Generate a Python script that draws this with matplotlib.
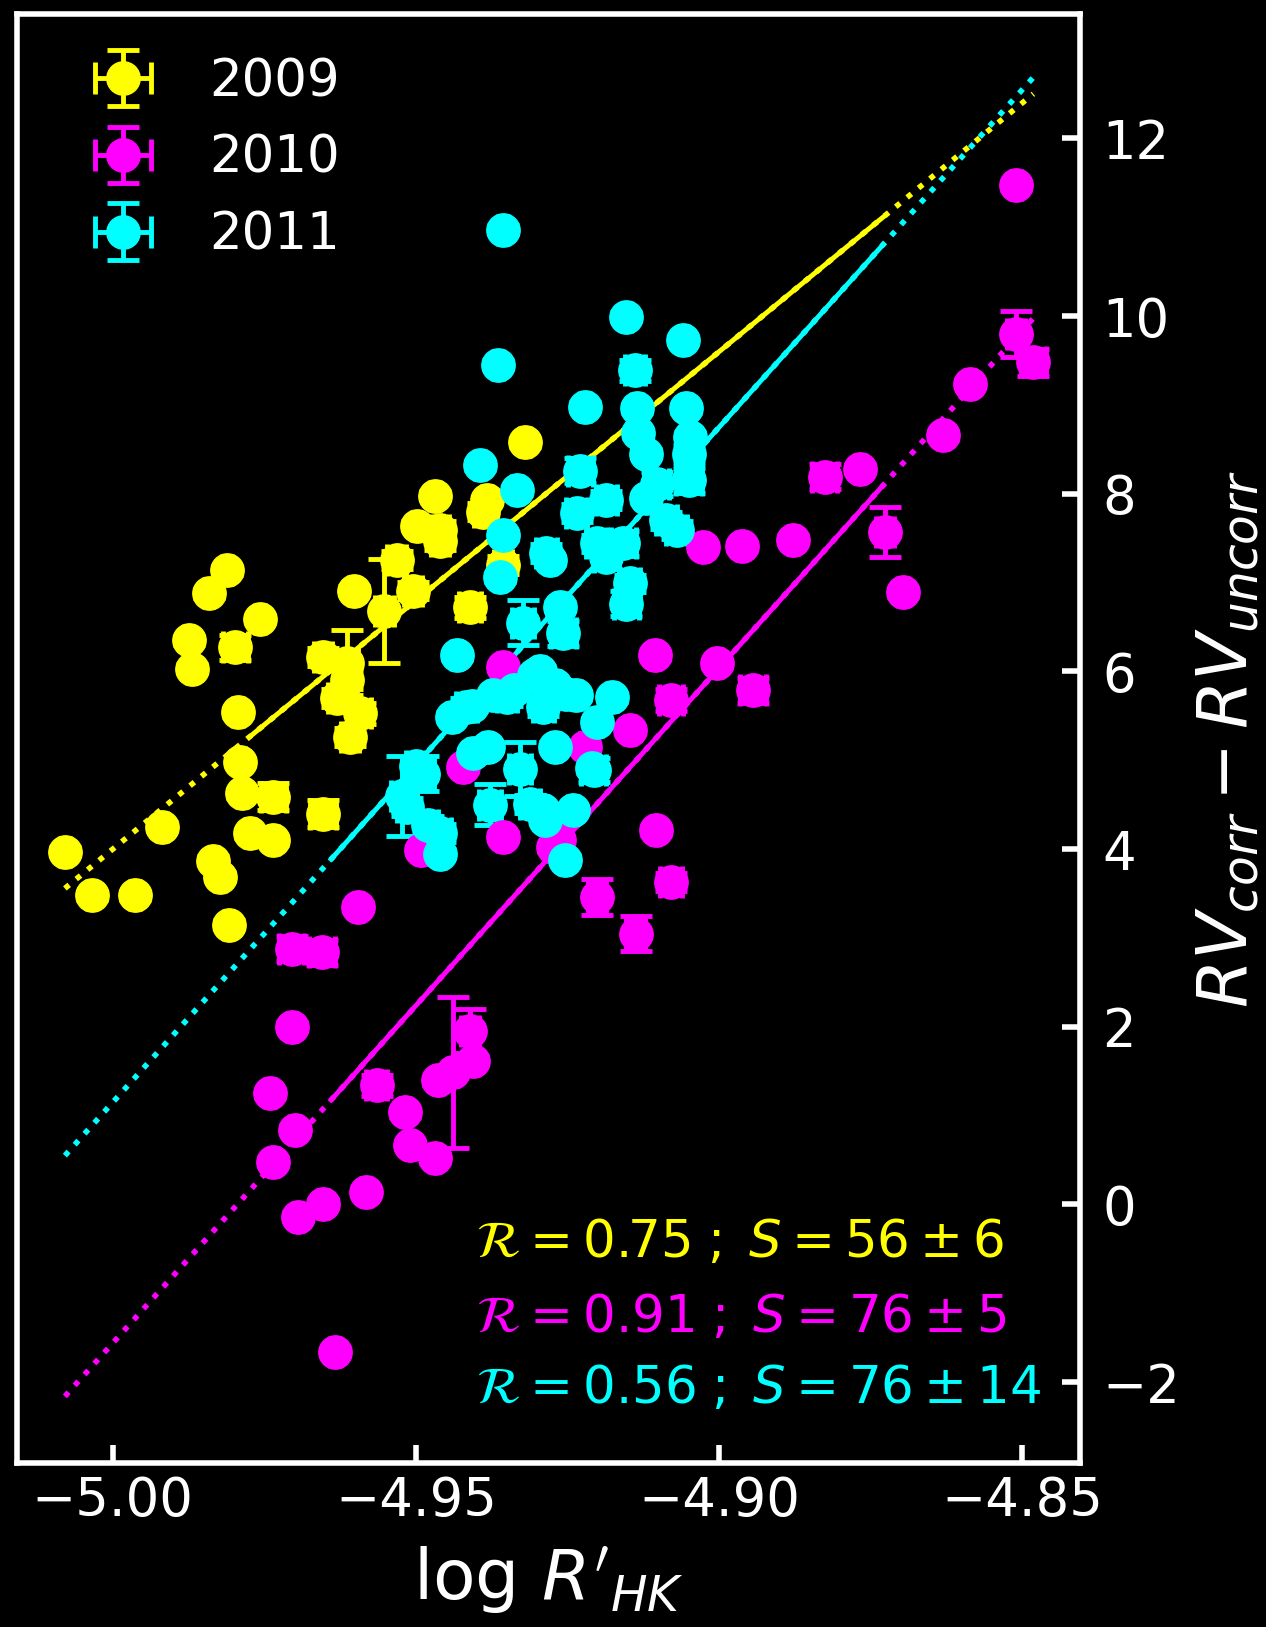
import matplotlib
matplotlib.use("Agg")
import matplotlib.pyplot as plt
from matplotlib.container import ErrorbarContainer
from matplotlib.legend_handler import HandlerErrorbar

# ---- 2009 season ----
x_2009 = [-4.9812, -4.9842, -4.9757, -4.9798, -4.9875, -4.9870, -4.9793, -4.9603,
          -4.9532, -4.9505, -4.9552, -4.9411, -4.9460, -4.9653, -4.9614, -4.9614,
          -4.9592, -4.9609, -4.9630, -4.9790, -4.9735, -4.9787, -4.9653, -4.9774,
          -4.9735, -4.9834, -4.9823, -4.9919, -5.0079, -5.0035, -4.9963, -4.9809,
          -4.9320, -4.9469, -4.9499, -4.9460, -4.9383, -4.9390, -4.9357]
y_2009 = [7.14, 6.88, 6.59, 6.27, 6.35, 6.03, 5.54, 6.91,
          7.25, 6.91, 6.68, 6.72, 7.47, 6.16, 6.10, 5.90,
          5.53, 5.26, 5.70, 4.98, 4.59, 4.63, 4.40, 4.18,
          4.10, 3.87, 3.69, 4.25, 3.97, 3.48, 3.48, 3.15,
          8.58, 7.98, 7.64, 7.59, 7.93, 7.80, 7.20]
yerr_2009 = [0.05, 0.05, 0.05, 0.14, 0.05, 0.05, 0.05, 0.05,
             0.10, 0.10, 0.59, 0.12, 0.10, 0.10, 0.37, 0.10,
             0.12, 0.10, 0.10, 0.05, 0.15, 0.05, 0.15, 0.05,
             0.05, 0.05, 0.05, 0.05, 0.05, 0.05, 0.05, 0.05,
             0.05, 0.05, 0.05, 0.10, 0.05, 0.10, 0.10]
xerr_2009 = [0.0008, 0.0008, 0.0008, 0.0021, 0.0008, 0.0008, 0.0008, 0.0008,
             0.0015, 0.0015, 0.0015, 0.0018, 0.0015, 0.0015, 0.0018, 0.0015,
             0.0018, 0.0015, 0.0015, 0.0008, 0.0021, 0.0008, 0.0021, 0.0008,
             0.0008, 0.0008, 0.0008, 0.0008, 0.0008, 0.0008, 0.0008, 0.0008,
             0.0008, 0.0008, 0.0008, 0.0015, 0.0008, 0.0015, 0.0015]

# ---- 2010 season ----
x_2010 = [-4.9705, -4.9655, -4.9705, -4.9741, -4.9700, -4.9735, -4.9565, -4.9518,
          -4.9510, -4.9469, -4.9439, -4.9463, -4.9406, -4.9411, -4.9694, -4.9653,
          -4.9582, -4.9634, -4.9595, -4.9105, -4.9080, -4.9201, -4.9138, -4.9356,
          -4.9492, -4.9026, -4.8963, -4.8878, -4.8726, -4.8697, -4.9106, -4.9004,
          -4.9079, -4.8944, -4.9147, -4.9221, -4.9265, -4.8510, -4.8510, -4.8482,
          -4.8587, -4.8631, -4.8768, -4.8826, -4.9356, -4.9422, -4.9274]
y_2010 = [2.88, 2.84, 2.00, 1.25, 0.84, 0.48, 1.34, 1.04,
          0.67, 0.52, 1.49, 1.40, 1.62, 1.95, -0.14, 0.01,
          0.14, -1.66, 3.35, 4.21, 3.63, 3.46, 3.05, 4.14,
          3.99, 7.40, 7.41, 7.48, 7.57, 6.89, 6.18, 6.09,
          5.68, 5.79, 5.34, 5.15, 4.10, 11.47, 9.80, 9.48,
          9.24, 8.66, 8.28, 8.19, 6.05, 4.92, 4.02]
yerr_2010 = [0.14, 0.14, 0.05, 0.05, 0.05, 0.05, 0.12, 0.05,
             0.05, 0.05, 0.85, 0.05, 0.05, 0.25, 0.05, 0.05,
             0.05, 0.05, 0.05, 0.05, 0.10, 0.20, 0.20, 0.05,
             0.05, 0.05, 0.05, 0.05, 0.28, 0.05, 0.05, 0.05,
             0.12, 0.14, 0.05, 0.05, 0.05, 0.05, 0.26, 0.15,
             0.05, 0.05, 0.05, 0.14, 0.05, 0.05, 0.05]
xerr_2010 = [0.0021, 0.0021, 0.0008, 0.0008, 0.0008, 0.0008, 0.0018, 0.0008,
             0.0008, 0.0008, 0.0008, 0.0008, 0.0008, 0.0015, 0.0008, 0.0008,
             0.0008, 0.0008, 0.0008, 0.0008, 0.0018, 0.0015, 0.0015, 0.0008,
             0.0008, 0.0008, 0.0008, 0.0008, 0.0015, 0.0008, 0.0008, 0.0008,
             0.0020, 0.0021, 0.0008, 0.0008, 0.0008, 0.0008, 0.0015, 0.0021,
             0.0008, 0.0008, 0.0008, 0.0021, 0.0008, 0.0008, 0.0008]

# ---- 2011 season ----
x_2011 = [-4.9357, -4.9365, -4.9394, -4.9333, -4.9356, -4.9285, -4.9153, -4.9059,
          -4.9139, -4.9221, -4.9136, -4.9054, -4.9134, -4.9048, -4.9050, -4.9050,
          -4.9229, -4.9186, -4.9235, -4.9103, -4.9087, -4.9158, -4.9202, -4.9070,
          -4.9120, -4.9120, -4.9279, -4.9186, -4.9147, -4.9153, -4.9262, -4.9257,
          -4.9296, -4.9252, -4.9177, -4.9202, -4.9207, -4.9290, -4.9241, -4.9254,
          -4.9433, -4.9362, -4.9323, -4.9417, -4.9350, -4.9290, -4.9406, -4.9328,
          -4.9488, -4.9378, -4.9312, -4.9515, -4.9460, -4.9460, -4.9523, -4.9441,
          -4.9407, -4.9373, -4.9339, -4.9305, -4.9270, -4.9236, -4.9382, -4.9270,
          -4.9210, -4.9288, -4.9500, -4.9480]
y_2011 = [10.97, 9.45, 8.32, 8.04, 7.53, 7.33, 9.99, 9.73,
          9.39, 8.98, 8.96, 8.96, 8.68, 8.64, 8.45, 8.15,
          8.26, 7.93, 7.78, 8.11, 7.70, 7.44, 7.44, 7.59,
          8.45, 7.95, 7.25, 7.29, 6.99, 6.76, 6.73, 6.43,
          6.01, 5.75, 5.71, 5.43, 4.89, 4.44, 4.44, 3.88,
          6.18, 7.06, 6.55, 5.60, 5.71, 5.60, 5.08, 4.90,
          4.85, 4.50, 4.51, 4.47, 4.18, 3.95, 4.60, 5.49,
          5.61, 5.73, 5.79, 5.96, 5.85, 5.73, 5.15, 5.15,
          4.91, 4.33, 4.94, 4.27]
yerr_2011 = [0.05, 0.05, 0.05, 0.05, 0.05, 0.10, 0.05, 0.05,
             0.12, 0.05, 0.05, 0.05, 0.05, 0.05, 0.10, 0.14,
             0.14, 0.10, 0.10, 0.14, 0.10, 0.14, 0.10, 0.10,
             0.05, 0.05, 0.05, 0.14, 0.10, 0.14, 0.05, 0.14,
             0.05, 0.05, 0.05, 0.05, 0.14, 0.05, 0.05, 0.05,
             0.05, 0.05, 0.25, 0.10, 0.10, 0.10, 0.05, 0.30,
             0.20, 0.23, 0.10, 0.10, 0.10, 0.05, 0.45, 0.05,
             0.05, 0.05, 0.05, 0.05, 0.05, 0.05, 0.05, 0.05,
             0.05, 0.05, 0.10, 0.10]
xerr_2011 = [0.0008, 0.0008, 0.0008, 0.0008, 0.0008, 0.0017, 0.0008, 0.0008,
             0.0017, 0.0008, 0.0008, 0.0008, 0.0008, 0.0008, 0.0017, 0.0021,
             0.0021, 0.0017, 0.0017, 0.0021, 0.0017, 0.0021, 0.0017, 0.0017,
             0.0008, 0.0008, 0.0008, 0.0021, 0.0017, 0.0021, 0.0008, 0.0021,
             0.0008, 0.0008, 0.0008, 0.0008, 0.0021, 0.0008, 0.0008, 0.0008,
             0.0008, 0.0008, 0.0018, 0.0017, 0.0017, 0.0017, 0.0008, 0.0018,
             0.0018, 0.0018, 0.0017, 0.0017, 0.0017, 0.0008, 0.0018, 0.0008,
             0.0008, 0.0008, 0.0008, 0.0008, 0.0008, 0.0008, 0.0008, 0.0008,
             0.0008, 0.0008, 0.0017, 0.0017]

# ---- linear fits: slope S, its error, correlation R, value at the reference activity ----
years = ["2009", "2010", "2011"]
colors = ["#ffff00", "#ff00ff", "#00ffff"]
fit_slope = [56, 76, 76]
fit_slope_err = [6, 5, 14]
fit_corr = [0.75, 0.91, 0.56]
fit_ref_x = -4.85
fit_value_at_ref = [12.40, 9.84, 12.55]
fit_span = [(-4.977, -4.873), (-4.964, -4.873), (-4.964, -4.873)]

series = [
    (x_2009, y_2009, xerr_2009, yerr_2009),
    (x_2010, y_2010, xerr_2010, yerr_2010),
    (x_2011, y_2011, xerr_2011, yerr_2011),
]

all_x = x_2009 + x_2010 + x_2011
x_lo, x_hi = min(all_x), max(all_x)

fig = plt.figure(figsize=(12.66, 16.27), dpi=100, facecolor="black")
ax = fig.add_axes([0.0134, 0.1008, 0.8397, 0.8906], facecolor="black")


def fit_line(x, k):
    return fit_slope[k] * (x - fit_ref_x) + fit_value_at_ref[k]


for k, (xs, ys, xe, ye) in enumerate(series):
    c = colors[k]
    ax.plot([x_lo, x_hi], [fit_line(x_lo, k), fit_line(x_hi, k)],
            ls=":", lw=4, color=c)
    a, b = fit_span[k]
    ax.plot([a, b], [fit_line(a, k), fit_line(b, k)], ls="-", lw=3.5, color=c)
    ax.errorbar(xs, ys, xerr=xe, yerr=ye, fmt="o", ms=24, color=c, ecolor=c,
                mec=c, elinewidth=3.5, capsize=11.5, capthick=3.5,
                label=years[k])

ax.set_xlim(-5.0158, -4.8405)
ax.set_ylim(-2.91, 13.40)
ax.set_xticks([-5.00, -4.95, -4.90, -4.85])
ax.set_yticks([-2, 0, 2, 4, 6, 8, 10, 12])

ax.xaxis.set_ticks_position("bottom")
ax.yaxis.tick_right()
ax.yaxis.set_label_position("right")
ax.tick_params(axis="both", direction="in", length=13, width=4,
               colors="white", labelsize=38)
ax.tick_params(axis="x", pad=9)
ax.tick_params(axis="y", pad=16)
for s in ax.spines.values():
    s.set_color("white")
    s.set_linewidth(4)

ax.set_xlabel(r"log $R'_{HK}$", fontsize=50, color="white", labelpad=12)
ax.set_ylabel(r"$RV_{corr} - RV_{uncorr}$", fontsize=50, color="white",
              labelpad=10)

text_y = [0.1422, 0.0904, 0.0414]
for k in range(3):
    ax.text(0.432, text_y[k],
            r"$\mathcal{R} = %.2f\;;\;S = %d \pm %d$"
            % (fit_corr[k], fit_slope[k], fit_slope_err[k]),
            transform=ax.transAxes, color=colors[k], fontsize=37,
            ha="left", va="baseline")

ax.legend(loc="upper left", frameon=False, fontsize=37, labelspacing=0.52,
          borderaxespad=0.44, handlelength=2.45, handletextpad=0.46,
          numpoints=1, labelcolor="white",
          handler_map={ErrorbarContainer: HandlerErrorbar(xerr_size=0.55)})

fig.savefig("out.png", dpi=100, facecolor="black")
